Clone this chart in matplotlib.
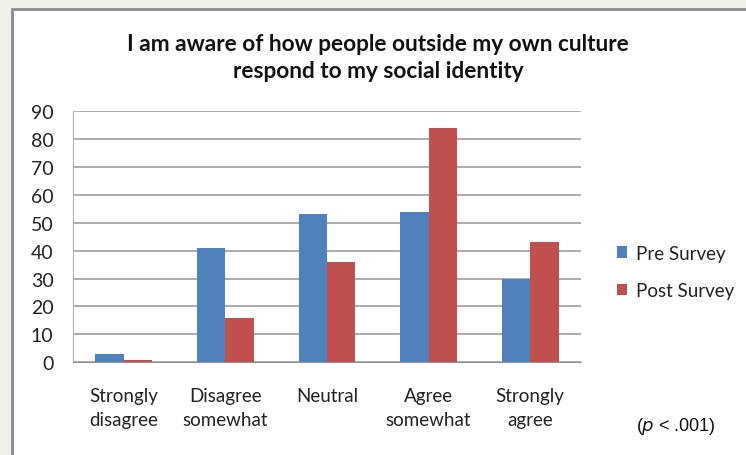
import numpy as np
import matplotlib.pyplot as plt
from matplotlib.patches import Rectangle

categories = ["Strongly\ndisagree", "Disagree\nsomewhat", "Neutral", "Agree\nsomewhat", "Strongly\nagree"]
pre_survey = [3, 41, 53, 54, 30]
post_survey = [1, 16, 36, 84, 43]

BLUE = "#4F81BD"
RED = "#C0504D"
FONT = ["Lato", "DejaVu Sans"]

fig = plt.figure(figsize=(7.46, 4.56), dpi=100, facecolor="#efefe8")

# white chart frame sitting on the slide background
frame = Rectangle((12 / 746, -0.05), 1.0, (456 - 10) / 456 + 0.05,
                  transform=fig.transFigure, facecolor="white",
                  edgecolor="#8a8a8a", linewidth=2, zorder=-5)
fig.patches.append(frame)

ax = fig.add_axes([73 / 746, 1 - 363.3 / 456, (581 - 73) / 746, (363.3 - 112) / 456])
ax.set_facecolor("white")

x = np.arange(len(categories))
width = 0.28
ax.bar(x - width / 2, pre_survey, width, color=BLUE, label="Pre Survey", zorder=3)
ax.bar(x + width / 2, post_survey, width, color=RED, label="Post Survey", zorder=3)

ax.set_xlim(-0.5, len(categories) - 0.5)
ax.set_ylim(0, 90)
ax.set_yticks(range(0, 91, 10))
ax.set_xticks(x)
ax.set_xticklabels(categories, fontsize=13.5, family=FONT, color="#222222", linespacing=1.45)
for lbl in ax.get_yticklabels():
    lbl.set_fontsize(14)
    lbl.set_family(FONT)
    lbl.set_color("#222222")
ax.tick_params(axis="y", length=0, pad=14)
ax.tick_params(axis="x", length=0, pad=18)

ax.grid(axis="y", color="#959595", linewidth=1.1, zorder=0)
for side in ["top", "right"]:
    ax.spines[side].set_visible(False)
ax.spines["left"].set_color("#b0b0b0")
ax.spines["bottom"].set_color("#959595")

fig.text(378 / 746, 1 - 58 / 456,
         "I am aware of how people outside my own culture\nrespond to my social identity",
         ha="center", va="center", fontsize=16.3, fontweight="bold",
         family=FONT, color="#111111", linespacing=1.4)

leg = fig.legend(loc="center left", bbox_to_anchor=(600 / 746, 1 - 273 / 456),
                 frameon=False, prop={"family": FONT, "size": 13.5},
                 handlelength=0.55, handleheight=0.55, handletextpad=0.45,
                 labelspacing=1.1)
for t in leg.get_texts():
    t.set_color("#222222")

fig.text(676 / 746, 1 - 427 / 456, r"($\it{p}$ < .001)", ha="center", va="center",
         fontsize=13, family="Liberation Sans", color="#111111")

fig.savefig("out.png", dpi=100, facecolor=fig.get_facecolor())
